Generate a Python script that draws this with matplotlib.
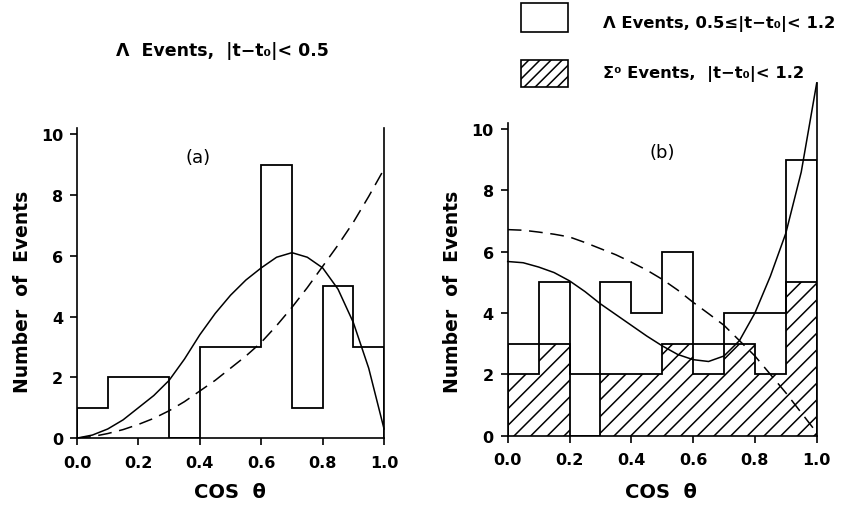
import numpy as np
import matplotlib
matplotlib.use("Agg")
import matplotlib.pyplot as plt
from matplotlib.patches import Rectangle

plt.rcParams['font.family'] = ['DejaVu Sans']
plt.rcParams['font.weight'] = 'bold'
plt.rcParams['hatch.linewidth'] = 1.1

# bins in cos(theta)
edges = np.round(np.arange(0, 1.01, 0.1), 2)

# (a) Lambda events, |t-t0| < 0.5
lam_a = [1, 2, 2, 0, 3, 3, 9, 1, 5, 3]

# (b) Lambda events 0.5 <= |t-t0| < 1.2 and Sigma0 events |t-t0| < 1.2
lam_b = [3, 5, 2, 5, 4, 6, 2, 4, 4, 9]
sig_b = [2, 3, 0, 2, 2, 3, 3, 3, 2, 5]

# theory curves, sampled every 0.05
xc = np.round(np.arange(0, 1.001, 0.05), 2)
solid_a = [0.0, 0.1, 0.3, 0.6, 1.0, 1.4, 1.9, 2.6, 3.4, 4.1, 4.7,
           5.2, 5.6, 5.95, 6.1, 5.95, 5.6, 4.9, 3.8, 2.3, 0.3]
dashed_a = [0.0, 0.05, 0.15, 0.28, 0.45, 0.65, 0.9, 1.2, 1.55, 1.9, 2.3,
            2.7, 3.15, 3.7, 4.3, 4.95, 5.65, 6.35, 7.1, 7.95, 8.85]
solid_b = [5.68, 5.64, 5.5, 5.32, 5.05, 4.7, 4.3, 3.95, 3.6, 3.25, 2.93,
           2.65, 2.48, 2.42, 2.6, 3.1, 4.0, 5.2, 6.6, 8.6, 11.5]
dashed_b = [6.72, 6.7, 6.64, 6.57, 6.48, 6.3, 6.1, 5.9, 5.66, 5.4, 5.1,
            4.75, 4.35, 3.98, 3.6, 3.1, 2.6, 2.0, 1.4, 0.75, 0.1]

xticks = [0.0, 0.2, 0.4, 0.6, 0.8, 1.0]
xticklabels = ['0.0', '0.2', '0.4', '0.6', '0.8', '1.0']
yticks = [0, 2, 4, 6, 8, 10]

fig = plt.figure(figsize=(8.51, 5.10), dpi=100)
ax_a = fig.add_axes([0.0905, 0.139, 0.3608, 0.608])
ax_b = fig.add_axes([0.5966, 0.1437, 0.3631, 0.6134])


def style(ax, top):
    ax.set_xlim(0, 1)
    ax.set_ylim(0, 10.2)
    for s in ('top', 'right'):
        ax.spines[s].set_visible(False)
    for s in ('left', 'bottom'):
        ax.spines[s].set_linewidth(1.2)
    ax.set_xticks(xticks)
    ax.set_xticklabels(xticklabels)
    ax.set_yticks(yticks)
    ax.tick_params(direction='out', length=5, width=1.2, labelsize=11.5, pad=5)
    ax.tick_params(axis='x', pad=7)
    # right-hand line at cos = 1
    ax.plot([1, 1], [0, top], color='black', lw=1.2, clip_on=False)


# panel (a)
style(ax_a, 10.2)
ax_a.stairs(lam_a, edges, color='black', lw=1.3, baseline=0)
ax_a.plot(xc, solid_a, color='black', lw=1.1, clip_on=False)
ax_a.plot(xc, dashed_a, color='black', lw=1.1, dashes=(9, 5))
ax_a.text(0.394, 9.24, '(a)', ha='center', va='center', fontsize=13, fontweight='normal')

# panel (b)
style(ax_b, 11.5)
overlap = np.minimum(lam_b, sig_b)
ax_b.bar(edges[:-1] + 0.05, overlap, width=0.1, fill=False, hatch='//',
         edgecolor='black', linewidth=0)
ax_b.stairs(sig_b, edges, color='black', lw=1.3, baseline=0)
ax_b.stairs(lam_b, edges, color='black', lw=1.3, baseline=0)
ax_b.plot(xc, solid_b, color='black', lw=1.1, clip_on=False)
ax_b.plot(xc, dashed_b, color='black', lw=1.1, dashes=(9, 5))
ax_b.text(0.5, 9.25, '(b)', ha='center', va='center', fontsize=13, fontweight='normal')

# axis labels
for xl, xb in ((23, 230), (453, 661)):
    fig.text(xl / 851, 1 - 292 / 510, 'Number  of  Events', rotation=90,
             ha='center', va='center', fontsize=13.5)
    fig.text(xb / 851, 1 - 493 / 510, 'COS  θ', ha='center', va='center',
             fontsize=14)

# heading over (a)
fig.text(222 / 851, 1 - 51 / 510, 'Λ  Events,  |t−t₀|< 0.5', ha='center',
         va='center', fontsize=12.5)

# key for (b)
fig.patches.append(Rectangle((521 / 851, 1 - 33 / 510), 47 / 851, 29 / 510,
                             transform=fig.transFigure, fill=False,
                             edgecolor='black', lw=1.2))
fig.patches.append(Rectangle((521 / 851, 1 - 88 / 510), 47 / 851, 27 / 510,
                             transform=fig.transFigure, fill=False,
                             edgecolor='black', lw=1.2, hatch='///'))
fig.text(603 / 851, 1 - 24 / 510, 'Λ Events, 0.5≤|t−t₀|< 1.2', ha='left',
         va='center', fontsize=11.8)
fig.text(603 / 851, 1 - 74 / 510, 'Σ⁰ Events,  |t−t₀|< 1.2', ha='left',
         va='center', fontsize=11.8)

fig.savefig('out.png', dpi=100, facecolor='white')
